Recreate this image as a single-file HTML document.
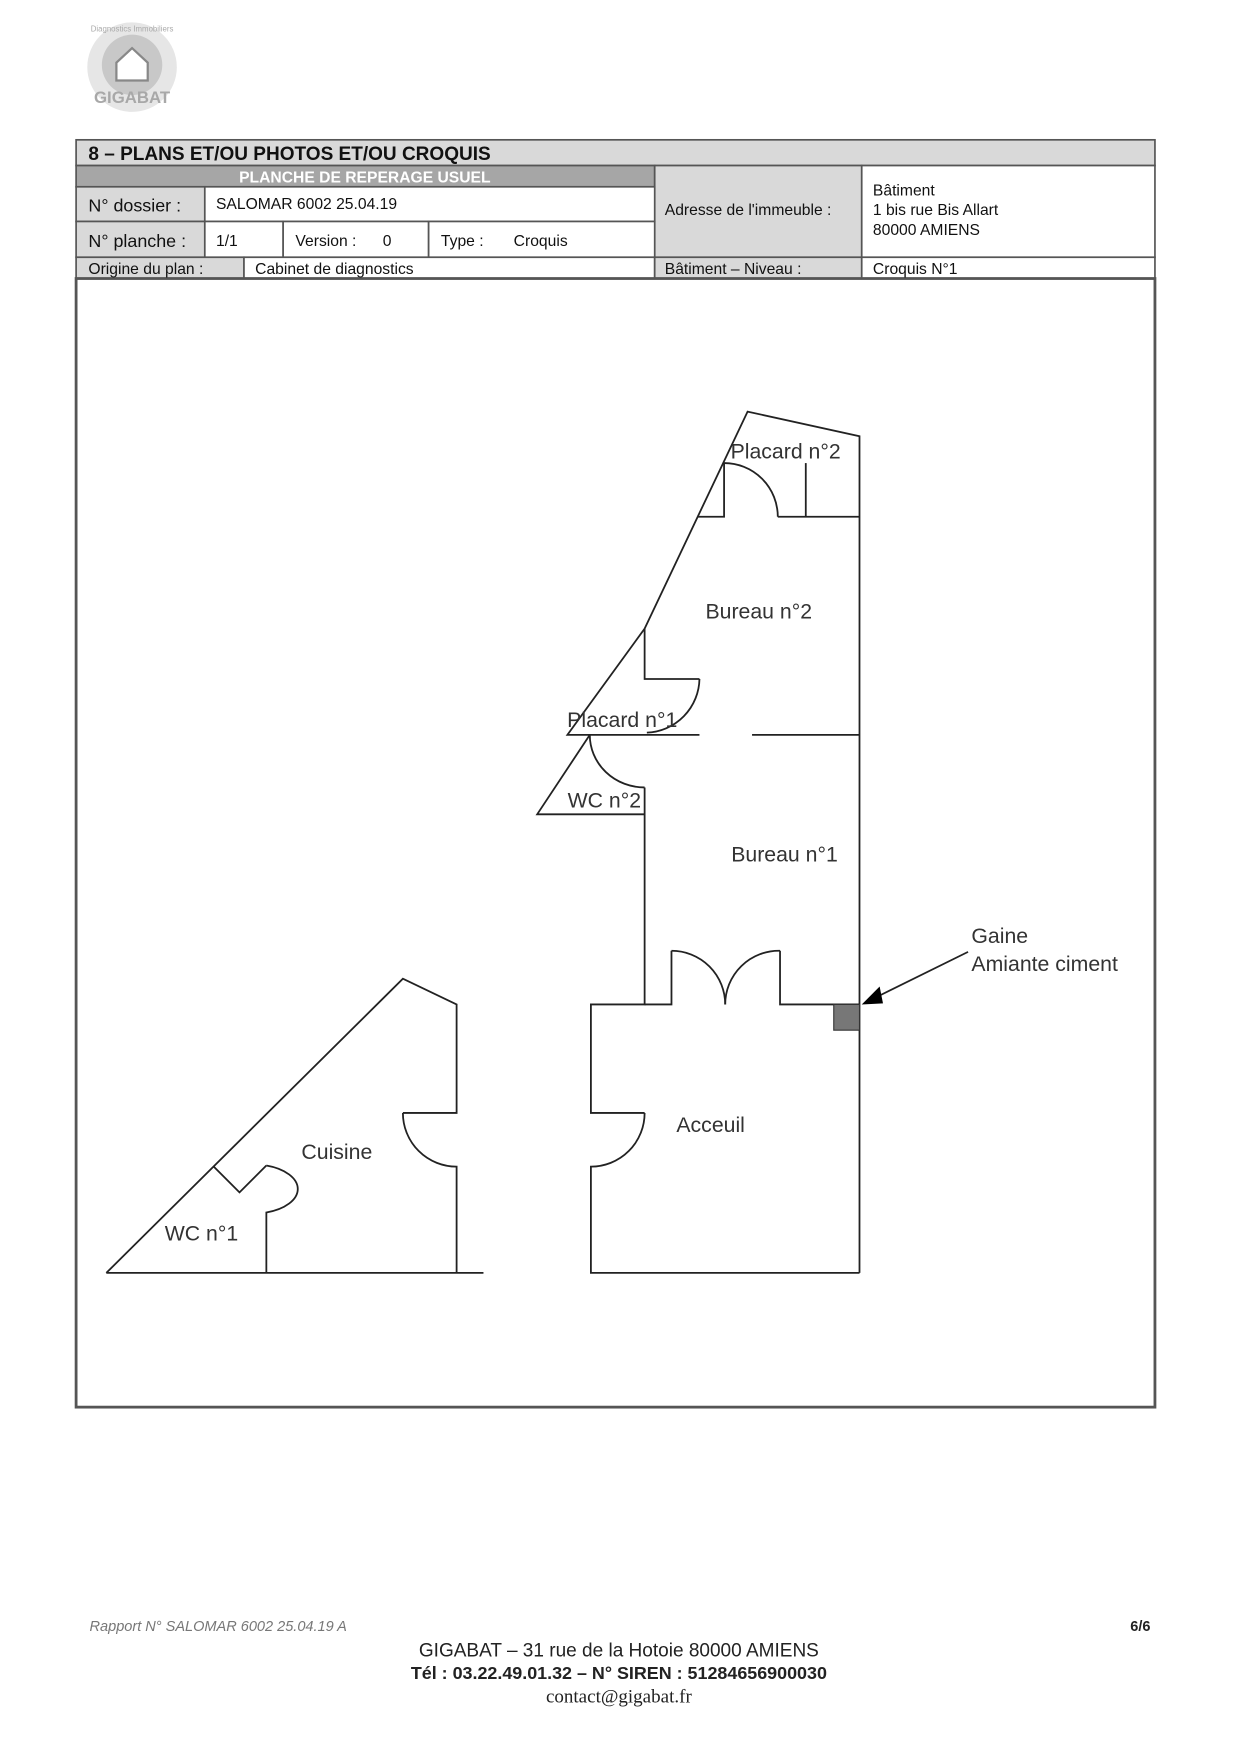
<!DOCTYPE html>
<html><head><meta charset="utf-8"><style>
html,body{margin:0;padding:0;background:#fff}
svg{display:block}
text{font-family:"Liberation Sans",Arial,sans-serif}
</style></head><body>
<svg width="1240" height="1755" viewBox="0 0 1108 1569" preserveAspectRatio="none" xmlns="http://www.w3.org/2000/svg">
<!-- logo -->
<g>
<circle cx="118" cy="60" r="40" fill="#e6e6e6"/>
<circle cx="118" cy="58" r="27" fill="#c8c8c8"/>
<path d="M104 72 V56 L118 43 L132 56 V72 Z" fill="#fff" stroke="#888" stroke-width="2"/>
<text x="118" y="92" text-anchor="middle" font-size="15" font-weight="bold" fill="#a8a8a8">GIGABAT</text>
<text x="118" y="28" text-anchor="middle" font-size="7" fill="#aaa">Diagnostics Immobiliers</text>
</g>
<!-- header table -->
<g stroke="#555" stroke-width="1.5">
<rect x="68" y="125" width="964" height="23" fill="#d9d9d9"/>
<rect x="68" y="148" width="517" height="19" fill="#a6a6a6"/>
<rect x="585" y="148" width="185" height="82" fill="#d9d9d9"/>
<rect x="770" y="148" width="262" height="82" fill="#fff"/>
<rect x="68" y="167" width="115" height="31" fill="#d9d9d9"/>
<rect x="183" y="167" width="402" height="31" fill="#fff"/>
<rect x="68" y="198" width="115" height="32" fill="#d9d9d9"/>
<rect x="183" y="198" width="70" height="32" fill="#fff"/>
<rect x="253" y="198" width="130" height="32" fill="#fff"/>
<rect x="383" y="198" width="202" height="32" fill="#fff"/>
<rect x="68" y="230" width="150" height="19" fill="#d9d9d9"/>
<rect x="218" y="230" width="367" height="19" fill="#fff"/>
<rect x="585" y="230" width="185" height="19" fill="#d9d9d9"/>
<rect x="770" y="230" width="262" height="19" fill="#fff"/>
<rect x="68" y="249" width="964" height="1009" fill="#fff" stroke-width="2.5"/>
</g>
<g fill="#111">
<text x="79" y="143" font-size="17" font-weight="bold">8 – PLANS ET/OU PHOTOS ET/OU CROQUIS</text>
<text x="326" y="163" font-size="14" font-weight="bold" fill="#fff" text-anchor="middle">PLANCHE DE REPERAGE USUEL</text>
<text x="79" y="189" font-size="16">N° dossier :</text>
<text x="193" y="187" font-size="14">SALOMAR 6002 25.04.19</text>
<text x="79" y="221" font-size="16">N° planche :</text>
<text x="193" y="220" font-size="14">1/1</text>
<text x="264" y="220" font-size="14">Version :</text>
<text x="342" y="220" font-size="14">0</text>
<text x="394" y="220" font-size="14">Type :</text>
<text x="459" y="220" font-size="14">Croquis</text>
<text x="594" y="192" font-size="14">Adresse de l'immeuble :</text>
<text x="780" y="175" font-size="14">Bâtiment</text>
<text x="780" y="192" font-size="14">1 bis rue Bis Allart</text>
<text x="780" y="210" font-size="14">80000 AMIENS</text>
<text x="79" y="245" font-size="14">Origine du plan :</text>
<text x="228" y="245" font-size="14">Cabinet de diagnostics</text>
<text x="594" y="245" font-size="14">Bâtiment – Niveau :</text>
<text x="780" y="245" font-size="14">Croquis N°1</text>
</g>
<!-- plan -->
<g fill="none" stroke="#222" stroke-width="1.6">
<path d="M768 1138 V390 L668 368 L576 562 L507 657 H625"/>
<path d="M672 657 H768"/>
<path d="M623 462 H647 V414"/>
<path d="M647 414 A48 48 0 0 1 695 462"/>
<path d="M695 462 H768"/>
<path d="M720 414 V462"/>
<path d="M576 562 V607 H625"/>
<path d="M625 607 A49 49 0 0 1 578 655"/>
<path d="M527 657 L480 728 H576"/>
<path d="M527 657 A49 47 0 0 0 576 704"/>
<path d="M576 704 V898 H528 V995 H576"/>
<path d="M576 995 A48 48 0 0 1 528 1043 V1138 H768"/>
<path d="M576 898 H600 V850"/>
<path d="M600 850 A48 48 0 0 1 648 898"/>
<path d="M697 850 A48 48 0 0 0 648 898"/>
<path d="M697 850 V898 H768"/>
<path d="M95 1138 L360 875 L408 898 V995 H360"/>
<path d="M360 995 A48 48 0 0 0 408 1043 V1138"/>
<path d="M95 1138 H432"/>
<path d="M191 1043 L214 1066 L238 1042"/>
<path d="M238 1042 A40 22 0 0 1 238 1084 V1138"/>
<path d="M865 851 L782 892"/>
</g>
<rect x="745" y="898" width="23" height="23" fill="#777" stroke="#333" stroke-width="1"/>
<polygon points="770,898 786,882 789,897" fill="#000"/>
<g fill="#333" font-size="19">
<text x="702" y="410" text-anchor="middle">Placard n°2</text>
<text x="678" y="553" text-anchor="middle">Bureau n°2</text>
<text x="556" y="650" text-anchor="middle">Placard n°1</text>
<text x="540" y="722" text-anchor="middle">WC n°2</text>
<text x="701" y="770" text-anchor="middle">Bureau n°1</text>
<text x="635" y="1012" text-anchor="middle">Acceuil</text>
<text x="301" y="1036" text-anchor="middle">Cuisine</text>
<text x="180" y="1109" text-anchor="middle">WC n°1</text>
<text x="868" y="843">Gaine</text>
<text x="868" y="868">Amiante ciment</text>
</g>
<text x="80" y="1458" font-size="13" font-style="italic" fill="#777">Rapport N° SALOMAR 6002 25.04.19 A</text>
<text x="1028" y="1458" font-size="13" font-weight="bold" text-anchor="end" fill="#222">6/6</text>
<text x="553" y="1481" font-size="17" text-anchor="middle" fill="#222">GIGABAT – 31 rue de la Hotoie 80000 AMIENS</text>
<text x="553" y="1501" font-size="16" font-weight="bold" text-anchor="middle" fill="#222">Tél : 03.22.49.01.32 – N° SIREN : 51284656900030</text>
<text x="553" y="1522" font-size="17" text-anchor="middle" fill="#222" style="font-family:'Liberation Serif',serif">contact@gigabat.fr</text>
</svg>
</body></html>
